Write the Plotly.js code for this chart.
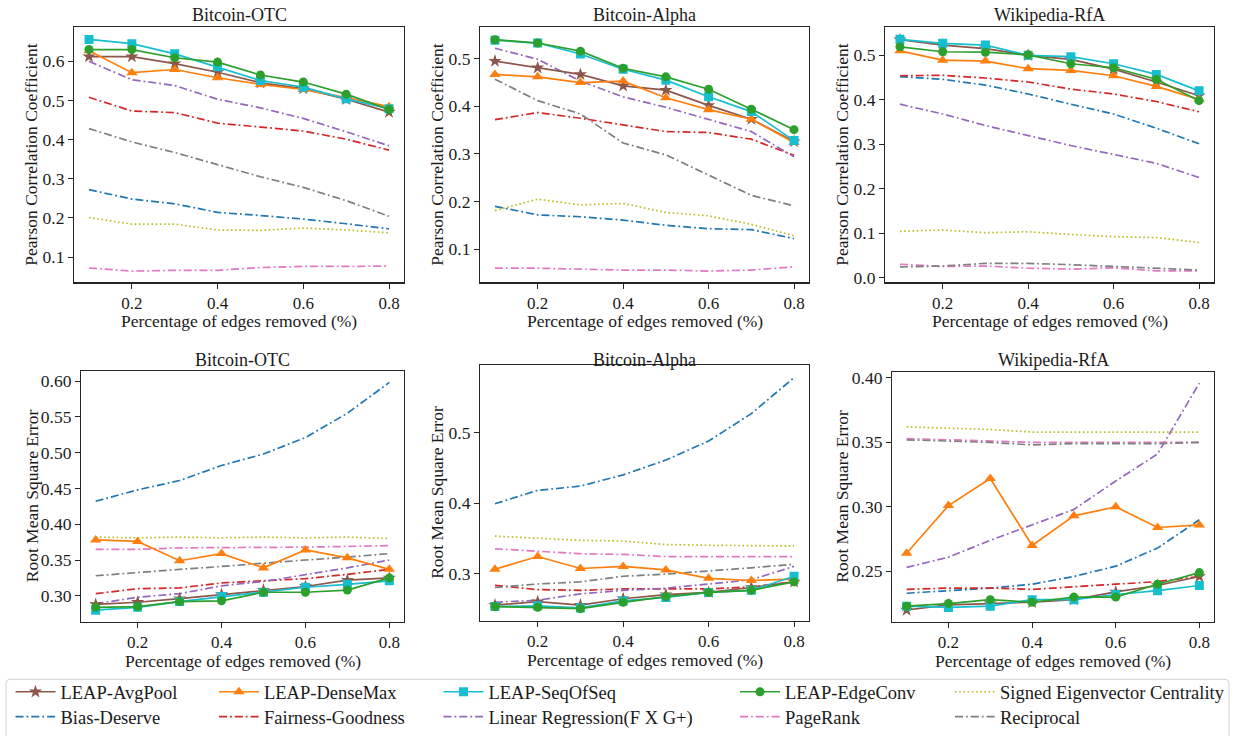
<!DOCTYPE html>
<html><head><meta charset="utf-8">
<script src="https://cdn.plot.ly/plotly-3.0.1.min.js"></script>
<style>html,body{margin:0;padding:0;background:#fff}#chart{width:1241px;height:736px}</style>
</head><body><div id="chart"></div><script>
// ---------- data ----------
const xVals = [0.1, 0.2, 0.3, 0.4, 0.5, 0.6, 0.7, 0.8];
const xTickVals = [0.2, 0.4, 0.6, 0.8];
const xTickText = ['0.2', '0.4', '0.6', '0.8'];
const panelTitles = ['Bitcoin-OTC', 'Bitcoin-Alpha', 'Wikipedia-RfA', 'Bitcoin-OTC', 'Bitcoin-Alpha', 'Wikipedia-RfA'];
const yTitles = ['Pearson Correlation Coefficient', 'Pearson Correlation Coefficient', 'Pearson Correlation Coefficient',
                 'Root Mean Square Error', 'Root Mean Square Error', 'Root Mean Square Error'];
const xTitle = 'Percentage of edges removed (%)';
const seriesNames = ['LEAP-AvgPool', 'LEAP-DenseMax', 'LEAP-SeqOfSeq', 'LEAP-EdgeConv', 'Signed Eigenvector Centrality',
                     'Bias-Deserve', 'Fairness-Goodness', 'Linear Regression(F X G+)', 'PageRank', 'Reciprocal'];

// Bitcoin-OTC, PCC
const pccOtcAvgPool  = [0.612, 0.612, 0.594, 0.572, 0.545, 0.530, 0.503, 0.470];
const pccOtcDenseMax = [0.627, 0.571, 0.579, 0.558, 0.541, 0.528, 0.507, 0.484];
const pccOtcSeqOfSeq = [0.656, 0.645, 0.619, 0.586, 0.551, 0.534, 0.504, 0.479];
const pccOtcEdgeConv = [0.630, 0.630, 0.609, 0.598, 0.565, 0.547, 0.516, 0.477];
const pccOtcSEC      = [0.201, 0.184, 0.184, 0.169, 0.168, 0.174, 0.169, 0.162];
const pccOtcBias     = [0.272, 0.248, 0.236, 0.214, 0.206, 0.197, 0.185, 0.172];
const pccOtcFairness = [0.508, 0.473, 0.469, 0.442, 0.432, 0.422, 0.401, 0.373];
const pccOtcLinReg   = [0.600, 0.553, 0.538, 0.503, 0.481, 0.454, 0.420, 0.384];
const pccOtcPageRank = [0.072, 0.064, 0.066, 0.066, 0.073, 0.076, 0.076, 0.077];
const pccOtcRecip    = [0.428, 0.394, 0.367, 0.336, 0.305, 0.278, 0.244, 0.204];

// Bitcoin-Alpha, PCC
const pccAlphaAvgPool  = [0.495, 0.481, 0.467, 0.443, 0.434, 0.402, 0.373, 0.326];
const pccAlphaDenseMax = [0.467, 0.462, 0.450, 0.453, 0.418, 0.393, 0.373, 0.324];
const pccAlphaSeqOfSeq = [0.539, 0.533, 0.510, 0.478, 0.455, 0.420, 0.389, 0.328];
const pccAlphaEdgeConv = [0.540, 0.533, 0.516, 0.480, 0.462, 0.436, 0.394, 0.351];
const pccAlphaSEC      = [0.181, 0.205, 0.193, 0.196, 0.177, 0.170, 0.152, 0.128];
const pccAlphaBias     = [0.190, 0.172, 0.168, 0.161, 0.150, 0.143, 0.141, 0.122];
const pccAlphaFairness = [0.372, 0.387, 0.375, 0.361, 0.347, 0.345, 0.331, 0.297];
const pccAlphaLinReg   = [0.522, 0.499, 0.453, 0.420, 0.398, 0.372, 0.347, 0.294];
const pccAlphaPageRank = [0.060, 0.060, 0.058, 0.056, 0.056, 0.054, 0.056, 0.063];
const pccAlphaRecip    = [0.457, 0.412, 0.384, 0.323, 0.298, 0.255, 0.213, 0.191];

// Wikipedia-RfA, PCC
const pccWikiAvgPool  = [0.535, 0.523, 0.515, 0.500, 0.491, 0.469, 0.440, 0.409];
const pccWikiDenseMax = [0.510, 0.489, 0.487, 0.470, 0.466, 0.454, 0.430, 0.401];
const pccWikiSeqOfSeq = [0.536, 0.527, 0.523, 0.500, 0.497, 0.481, 0.457, 0.420];
const pccWikiEdgeConv = [0.519, 0.508, 0.507, 0.501, 0.481, 0.472, 0.446, 0.398];
const pccWikiSEC      = [0.104, 0.107, 0.101, 0.103, 0.097, 0.092, 0.090, 0.079];
const pccWikiBias     = [0.452, 0.446, 0.433, 0.413, 0.390, 0.368, 0.336, 0.301];
const pccWikiFairness = [0.454, 0.455, 0.449, 0.440, 0.424, 0.413, 0.396, 0.373];
const pccWikiLinReg   = [0.390, 0.368, 0.342, 0.319, 0.297, 0.277, 0.257, 0.225];
const pccWikiPageRank = [0.030, 0.025, 0.026, 0.021, 0.019, 0.022, 0.015, 0.015];
const pccWikiRecip    = [0.024, 0.026, 0.032, 0.032, 0.029, 0.025, 0.021, 0.017];

// Bitcoin-OTC, RMSE
const rmseOtcAvgPool  = [0.288, 0.291, 0.296, 0.302, 0.308, 0.313, 0.322, 0.325];
const rmseOtcDenseMax = [0.378, 0.376, 0.349, 0.359, 0.339, 0.364, 0.353, 0.337];
const rmseOtcSeqOfSeq = [0.280, 0.284, 0.292, 0.299, 0.305, 0.312, 0.316, 0.321];
const rmseOtcEdgeConv = [0.284, 0.285, 0.292, 0.293, 0.305, 0.305, 0.308, 0.325];
const rmseOtcSEC      = [0.382, 0.381, 0.382, 0.381, 0.382, 0.381, 0.382, 0.380];
const rmseOtcBias     = [0.432, 0.448, 0.461, 0.482, 0.498, 0.521, 0.555, 0.598];
const rmseOtcFairness = [0.303, 0.310, 0.311, 0.318, 0.321, 0.324, 0.330, 0.337];
const rmseOtcLinReg   = [0.289, 0.298, 0.303, 0.314, 0.320, 0.329, 0.339, 0.350];
const rmseOtcPageRank = [0.365, 0.365, 0.367, 0.367, 0.368, 0.368, 0.369, 0.370];
const rmseOtcRecip    = [0.328, 0.333, 0.337, 0.341, 0.346, 0.350, 0.354, 0.359];

// Bitcoin-Alpha, RMSE
const rmseAlphaAvgPool  = [0.255, 0.260, 0.255, 0.264, 0.270, 0.273, 0.280, 0.288];
const rmseAlphaDenseMax = [0.306, 0.324, 0.307, 0.310, 0.305, 0.293, 0.290, 0.292];
const rmseAlphaSeqOfSeq = [0.253, 0.254, 0.251, 0.261, 0.266, 0.273, 0.276, 0.296];
const rmseAlphaEdgeConv = [0.253, 0.252, 0.250, 0.259, 0.267, 0.273, 0.276, 0.288];
const rmseAlphaSEC      = [0.353, 0.350, 0.347, 0.346, 0.341, 0.340, 0.340, 0.339];
const rmseAlphaBias     = [0.399, 0.418, 0.424, 0.440, 0.461, 0.488, 0.527, 0.578];
const rmseAlphaFairness = [0.283, 0.277, 0.276, 0.278, 0.278, 0.278, 0.281, 0.288];
const rmseAlphaLinReg   = [0.259, 0.262, 0.271, 0.276, 0.279, 0.285, 0.291, 0.310];
const rmseAlphaPageRank = [0.335, 0.331, 0.328, 0.327, 0.324, 0.324, 0.324, 0.324];
const rmseAlphaRecip    = [0.280, 0.285, 0.288, 0.296, 0.299, 0.303, 0.308, 0.313];

// Wikipedia-RfA, RMSE
const rmseWikiAvgPool  = [0.220, 0.224, 0.225, 0.226, 0.228, 0.234, 0.239, 0.246];
const rmseWikiDenseMax = [0.264, 0.301, 0.322, 0.270, 0.293, 0.300, 0.284, 0.286];
const rmseWikiSeqOfSeq = [0.223, 0.222, 0.223, 0.228, 0.228, 0.232, 0.235, 0.239];
const rmseWikiEdgeConv = [0.223, 0.225, 0.228, 0.226, 0.230, 0.230, 0.240, 0.249];
const rmseWikiSEC      = [0.362, 0.361, 0.360, 0.358, 0.358, 0.358, 0.358, 0.358];
const rmseWikiBias     = [0.233, 0.235, 0.237, 0.240, 0.246, 0.254, 0.268, 0.290];
const rmseWikiFairness = [0.236, 0.237, 0.237, 0.236, 0.238, 0.240, 0.242, 0.246];
const rmseWikiLinReg   = [0.253, 0.261, 0.274, 0.286, 0.298, 0.320, 0.341, 0.396];
const rmseWikiPageRank = [0.353, 0.352, 0.351, 0.350, 0.350, 0.350, 0.350, 0.350];
const rmseWikiRecip    = [0.352, 0.351, 0.350, 0.348, 0.349, 0.349, 0.349, 0.350];

// ---------- assemble panels (same order as seriesNames) ----------
const panels = [
  [pccOtcAvgPool, pccOtcDenseMax, pccOtcSeqOfSeq, pccOtcEdgeConv, pccOtcSEC, pccOtcBias, pccOtcFairness, pccOtcLinReg, pccOtcPageRank, pccOtcRecip],
  [pccAlphaAvgPool, pccAlphaDenseMax, pccAlphaSeqOfSeq, pccAlphaEdgeConv, pccAlphaSEC, pccAlphaBias, pccAlphaFairness, pccAlphaLinReg, pccAlphaPageRank, pccAlphaRecip],
  [pccWikiAvgPool, pccWikiDenseMax, pccWikiSeqOfSeq, pccWikiEdgeConv, pccWikiSEC, pccWikiBias, pccWikiFairness, pccWikiLinReg, pccWikiPageRank, pccWikiRecip],
  [rmseOtcAvgPool, rmseOtcDenseMax, rmseOtcSeqOfSeq, rmseOtcEdgeConv, rmseOtcSEC, rmseOtcBias, rmseOtcFairness, rmseOtcLinReg, rmseOtcPageRank, rmseOtcRecip],
  [rmseAlphaAvgPool, rmseAlphaDenseMax, rmseAlphaSeqOfSeq, rmseAlphaEdgeConv, rmseAlphaSEC, rmseAlphaBias, rmseAlphaFairness, rmseAlphaLinReg, rmseAlphaPageRank, rmseAlphaRecip],
  [rmseWikiAvgPool, rmseWikiDenseMax, rmseWikiSeqOfSeq, rmseWikiEdgeConv, rmseWikiSEC, rmseWikiBias, rmseWikiFairness, rmseWikiLinReg, rmseWikiPageRank, rmseWikiRecip]
];

// ---------- styles ----------
const W = 1241, H = 736;
const FONT = "'Liberation Serif', 'DejaVu Serif', serif";
const TXT = '#1a1a1a';
const DASHDOT = '8px,3px,1.8px,3px';
const colors  = ['#8c564b', '#ff7f0e', '#17becf', '#2ca02c', '#bcbd22', '#1f77b4', '#d62728', '#9467bd', '#e377c2', '#7f7f7f'];
const dashes  = ['solid', 'solid', 'solid', 'solid', '1.6px,2.6px', DASHDOT, DASHDOT, DASHDOT, DASHDOT, DASHDOT];
const symbols = ['star', 'triangle-up', 'square', 'circle', null, null, null, null, null, null];
const msizes  = [10, 10, 9, 9, 0, 0, 0, 0, 0, 0];
const drawOrder = [5, 6, 7, 8, 9, 4, 0, 1, 2, 3];

// panel boxes in pixels: [left, right, top, bottom]
const boxes = [
  [74, 404, 27, 284], [480, 809, 27, 284], [885, 1214, 27, 284],
  [81, 404, 373, 625], [480, 809, 367, 624], [892, 1214, 374, 625]
];
const yRanges = [[0.035, 0.688], [0.030, 0.567], [-0.011, 0.564], [0.264, 0.614], [0.233, 0.596], [0.211, 0.4046]];
const yDticks = [0.1, 0.1, 0.1, 0.05, 0.1, 0.05];
const yFormats = ['.1f', '.1f', '.1f', '.2f', '.1f', '.2f'];
const titleY = [15, 15, 15, 362, 362, 362];
const xTitleY = [323, 323, 323, 664.5, 664, 664.5];
const yTitleX = [31, 437, 842, 32, 437, 842];

// legend placement (pixels): item origin x, row centre y
const legendX = [10.5, 214, 438.5, 735, 950, 10.5, 214, 438.5, 735, 950];
const legendY = [696, 696, 696, 696, 696, 721, 721, 721, 721, 721];

const px = v => v / W;
const py = v => 1 - v / H;

const traces = [];
const layout = {
  width: W, height: H,
  margin: {l: 0, r: 0, t: 0, b: 0},
  paper_bgcolor: '#ffffff', plot_bgcolor: '#ffffff',
  font: {family: FONT, size: 17, color: TXT},
  annotations: [], shapes: []
};

panels.forEach((series, p) => {
  const sfx = p === 0 ? '' : String(p + 1);
  const b = boxes[p];
  layout['xaxis' + sfx] = {
    domain: [px(b[0]), px(b[1])], anchor: 'y' + sfx,
    range: [0.065, 0.835], tickvals: xTickVals, ticktext: xTickText,
    showgrid: false, zeroline: false, showline: true, mirror: true,
    linecolor: '#262626', linewidth: 1.1, ticks: 'outside', ticklen: 5, tickwidth: 1, tickcolor: '#262626',
    tickfont: {family: FONT, size: 17, color: TXT}, fixedrange: true
  };
  layout['yaxis' + sfx] = {
    domain: [py(b[3]), py(b[2])], anchor: 'x' + sfx,
    range: yRanges[p], tick0: 0, dtick: yDticks[p], tickformat: yFormats[p],
    showgrid: false, zeroline: false, showline: true, mirror: true,
    linecolor: '#262626', linewidth: 1.1, ticks: 'outside', ticklen: 5, tickwidth: 1, tickcolor: '#262626',
    tickfont: {family: FONT, size: 17.5, color: TXT}, fixedrange: true
  };
  layout.annotations.push(
    {text: panelTitles[p], xref: 'paper', yref: 'paper', x: px((b[0] + b[1]) / 2), y: py(titleY[p]),
     xanchor: 'center', yanchor: 'middle', showarrow: false, font: {family: FONT, size: 18, color: TXT}},
    {text: xTitle, xref: 'paper', yref: 'paper', x: px((b[0] + b[1]) / 2), y: py(xTitleY[p]),
     xanchor: 'center', yanchor: 'middle', showarrow: false, font: {family: FONT, size: 17.5, color: TXT}},
    {text: yTitles[p], xref: 'paper', yref: 'paper', x: px(yTitleX[p]), y: py((b[2] + b[3]) / 2),
     xanchor: 'center', yanchor: 'middle', textangle: -90, showarrow: false, font: {family: FONT, size: 17.5, color: TXT}}
  );
  drawOrder.forEach(i => {
    const hasMarker = symbols[i] !== null;
    const t = {
      type: 'scatter', x: xVals, y: series[i], name: seriesNames[i],
      xaxis: 'x' + sfx, yaxis: 'y' + sfx,
      mode: hasMarker ? 'lines+markers' : 'lines',
      line: {color: colors[i], width: 1.7, dash: dashes[i]},
      showlegend: p === 0,
      legend: i === 0 ? 'legend' : 'legend' + (i + 1),
      hoverinfo: 'skip'
    };
    if (hasMarker) t.marker = {symbol: symbols[i], size: msizes[i], color: colors[i], line: {width: 0}};
    traces.push(t);
  });
});

for (let i = 0; i < seriesNames.length; i++) {
  const key = i === 0 ? 'legend' : 'legend' + (i + 1);
  layout[key] = {
    x: px(legendX[i]), y: py(legendY[i]), xanchor: 'left', yanchor: 'middle',
    xref: 'paper', yref: 'paper', orientation: 'v',
    bgcolor: 'rgba(0,0,0,0)', borderwidth: 0, itemwidth: 40,
    font: {family: FONT, size: 18.5, color: TXT}, itemclick: false, itemdoubleclick: false
  };
}

// legend frame (rounded top corners; bottom edge lies below the canvas)
const fx0 = px(6), fx1 = px(1229), fy0 = py(683), fy1 = py(745);
const rx = 4 / W, ry = 4 / H;
layout.shapes.push({
  type: 'path', xref: 'paper', yref: 'paper',
  path: `M ${fx0},${fy1} L ${fx0},${fy0 - ry} Q ${fx0},${fy0} ${fx0 + rx},${fy0} L ${fx1 - rx},${fy0} Q ${fx1},${fy0} ${fx1},${fy0 - ry} L ${fx1},${fy1}`,
  line: {color: '#d0d0d0', width: 1}
});

Plotly.newPlot('chart', traces, layout, {staticPlot: true, displayModeBar: false});
</script></body></html>
